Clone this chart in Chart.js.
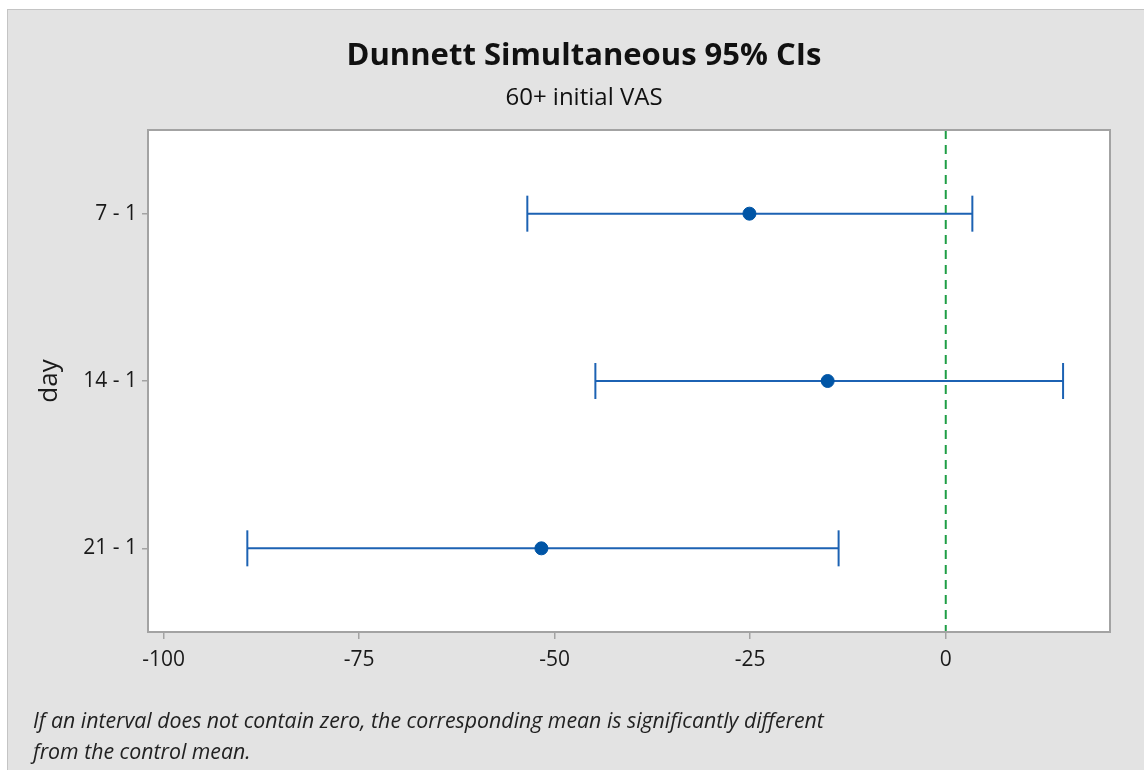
<!DOCTYPE html>
<html lang="en">
<head>
    <meta charset="UTF-8">
    <title>Dunnett Simultaneous 95% CIs</title>
    <style>
        body { margin: 0; background: #ffffff; }
        .wrap { position: relative; width: 1144px; height: 770px; overflow: hidden; }
        .panel { position: absolute; left: 7px; top: 9px; width: 1140px; height: 765px;
                 background: #e3e3e3; border: 1px solid #c4c4c4; }
        #myChart { position: absolute; left: 0; top: 0; }
        .note { position: absolute; left: 33px; top: 704px; font-family: "Open Sans", sans-serif;
                font-style: italic; font-size: 21.3px; line-height: 31px; color: #222; }
    </style>
</head>
<body>
<div class="wrap">
    <div class="panel"></div>
    <canvas id="myChart" width="1144" height="770"></canvas>
    <div class="note">If an interval does not contain zero, the corresponding mean is significantly different<br>from the control mean.</div>
</div>

<script src="https://cdn.jsdelivr.net/npm/chart.js@4/dist/chart.umd.min.js"></script>
<script>
// data
var categories = ["7 - 1", "14 - 1", "21 - 1"];
var means = [-25.1, -15.1, -51.7];
var lower = [-53.5, -44.8, -89.3];
var upper = [3.4, 15.0, -13.7];
var xTicks = [-100, -75, -50, -25, 0];

var blue = "#1c62b3";
var grey = "#a3a3a3";

// one line dataset per interval, with the caps as rotated line points
var datasets = categories.map(function(c, i) {
    return {
        type: "line",
        data: [{x: lower[i], y: i + 1}, {x: upper[i], y: i + 1}],
        borderColor: blue,
        borderWidth: 2,
        pointStyle: "line",
        rotation: 90,
        pointRadius: 18,
        pointBorderColor: blue,
        pointBorderWidth: 2,
        order: 1
    };
});

datasets.push({
    type: "scatter",
    data: means.map(function(m, i) { return {x: m, y: i + 1}; }),
    backgroundColor: "#0055a6",
    borderColor: "#0055a6",
    pointRadius: 6.5,
    order: 0
});

// reference line at zero
datasets.push({
    type: "line",
    data: [{x: 0, y: 0.5}, {x: 0, y: 3.5}],
    borderColor: "#1f9e45",
    borderWidth: 2,
    borderDash: [9, 6],
    pointRadius: 0,
    order: 2
});

// white plot area with a grey box round it
var frame = {
    id: "frame",
    beforeDraw: function(chart) {
        var a = chart.chartArea, ctx = chart.ctx;
        ctx.save();
        ctx.fillStyle = "#ffffff";
        ctx.fillRect(a.left, a.top, a.right - a.left, a.bottom - a.top);
        ctx.restore();
    },
    afterDatasetsDraw: function(chart) {
        var a = chart.chartArea, ctx = chart.ctx;
        ctx.save();
        ctx.strokeStyle = grey;
        ctx.lineWidth = 2;
        ctx.strokeRect(a.left, a.top, a.right - a.left, a.bottom - a.top);
        ctx.restore();
    }
};

function createChart() {
    var ctx = document.getElementById("myChart").getContext("2d");
    new Chart(ctx, {
        type: "scatter",
        data: { datasets: datasets },
        plugins: [frame],
        options: {
            responsive: false,
            animation: false,
            layout: { padding: { left: 24, right: 0, top: 0, bottom: 0 } },
            plugins: {
                legend: { display: false },
                tooltip: { enabled: false },
                title: {
                    display: true,
                    text: "Dunnett Simultaneous 95% CIs",
                    color: "#111",
                    font: { family: "Open Sans", size: 31, weight: "bold", lineHeight: 1.2 },
                    padding: { top: 38, bottom: 4 }
                },
                subtitle: {
                    display: true,
                    text: "60+ initial VAS",
                    color: "#111",
                    font: { family: "Open Sans", size: 24, lineHeight: 1.2 },
                    padding: { top: 4.4, bottom: 17.6 }
                }
            },
            scales: {
                x: {
                    type: "linear",
                    min: -102,
                    max: 21,
                    afterBuildTicks: function(s) { s.ticks = xTicks.map(function(v) { return {value: v}; }); },
                    afterFit: function(s) { s.height = 138; },
                    grid: { drawOnChartArea: false, color: grey, tickLength: 7, lineWidth: 1.5 },
                    border: { display: false },
                    ticks: { color: "#1a1a1a", padding: 8, font: { family: "Open Sans", size: 21 } }
                },
                y: {
                    type: "linear",
                    min: 0.5,
                    max: 3.5,
                    reverse: true,
                    afterBuildTicks: function(s) { s.ticks = categories.map(function(c, i) { return {value: i + 1}; }); },
                    afterFit: function(s) { s.width = 124; },
                    grid: { drawOnChartArea: false, color: grey, tickLength: 6, lineWidth: 1.5 },
                    border: { display: false },
                    ticks: {
                        color: "#1a1a1a",
                        padding: 5,
                        font: { family: "Open Sans", size: 21 },
                        callback: function(v) { return categories[v - 1]; }
                    },
                    title: {
                        display: true,
                        text: "day",
                        color: "#1a1a1a",
                        font: { family: "Open Sans", size: 26 },
                        padding: { top: 10, bottom: 0 }
                    }
                },
                y2: {
                    type: "linear",
                    position: "right",
                    display: true,
                    afterFit: function(s) { s.width = 34; },
                    grid: { display: false },
                    border: { display: false },
                    ticks: { display: false }
                }
            }
        }
    });
}

window.onload = function() {
    createChart();
};
</script>
</body>
</html>
